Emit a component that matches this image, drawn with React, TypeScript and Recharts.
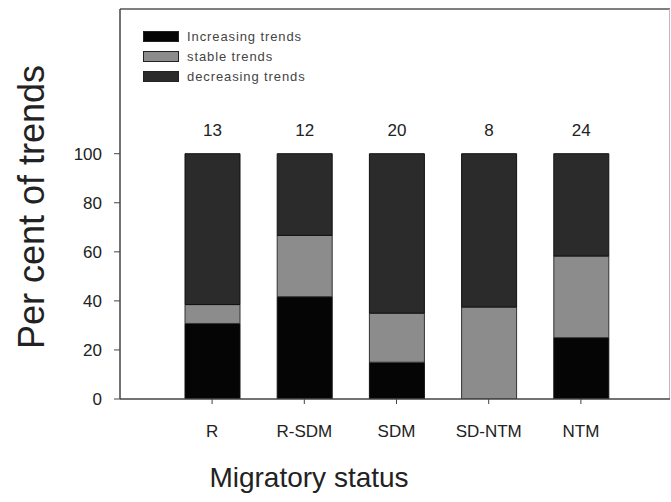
import React from "react";
import { BarChart, Bar, XAxis, YAxis, LabelList, Label, ReferenceLine } from "recharts";

const categories = ["R", "R-SDM", "SDM", "SD-NTM", "NTM"];
const increasing = [30.8, 41.7, 15, 0, 25];
const stable = [7.7, 25, 20, 37.5, 33.3];
const decreasing = [61.5, 33.3, 65, 62.5, 41.7];
const counts = [13, 12, 20, 8, 24];
const yTicks = [0, 20, 40, 60, 80, 100];
const Y_MAX = 159;

const data = categories.map((c, i) => ({
  cat: c,
  inc: increasing[i],
  sta: stable[i],
  dec: decreasing[i],
  n: counts[i],
}));

const legendItems = [
  { label: "Increasing trends", color: "#050505" },
  { label: "stable trends", color: "#8c8c8c" },
  { label: "decreasing trends", color: "#2b2b2b" },
];

const FONT = "Liberation Sans, Arial, sans-serif";

const CountLabel = (props: any) => {
  const { x, y, width, value } = props;
  return (
    <text x={x + width / 2} y={y - 18} textAnchor="middle" fontSize={17} fill="#222" fontFamily={FONT}>
      {value}
    </text>
  );
};

export default function App() {
  return (
    <div style={{ position: "absolute", left: 0, top: 0, width: 671, height: 502, background: "#fff" }}>
      <BarChart
        width={671}
        height={502}
        data={data}
        margin={{ top: 9, right: 1, left: 0, bottom: 0 }}
        barCategoryGap={0}
      >
        <XAxis
          dataKey="cat"
          xAxisId="b"
          height={103}
          padding={{ left: 46, right: 43 }}
          tickLine={{ stroke: "#444" }}
          axisLine={{ stroke: "#444", strokeWidth: 1.5 }}
          tickSize={5}
          tickMargin={21}
          interval={0}
          tick={{ fontSize: 17, fill: "#222", fontFamily: FONT }}
        >
          <Label
            content={(p: any) => {
              const vb = p.viewBox;
              return (
                <text x={vb.x + 189} y={vb.y + 88} textAnchor="middle" fontSize={28} fill="#222" fontFamily={FONT}>
                  Migratory status
                </text>
              );
            }}
          />
        </XAxis>
        <YAxis
          yAxisId="l"
          width={120}
          domain={[0, Y_MAX]}
          ticks={yTicks}
          allowDataOverflow
          tickLine={{ stroke: "#444" }}
          axisLine={{ stroke: "#444", strokeWidth: 1.5 }}
          tickSize={6}
          tickMargin={12}
          tick={{ fontSize: 17, fill: "#222", fontFamily: FONT }}
        >
          <Label
            content={(p: any) => {
              const vb = p.viewBox;
              const cx = 44;
              const cy = vb.y + vb.height / 2 + 3;
              return (
                <text x={cx} y={cy} transform={`rotate(-90, ${cx}, ${cy})`} textAnchor="middle" fontSize={36} fill="#222" fontFamily={FONT}>
                  Per cent of trends
                </text>
              );
            }}
          />
        </YAxis>
        <ReferenceLine y={Y_MAX} xAxisId="b" yAxisId="l" stroke="#555" strokeWidth={1.5} ifOverflow="visible" />
        <ReferenceLine
          xAxisId="b"
          yAxisId="l"
          segment={[{ x: "NTM", y: 0 }, { x: "NTM", y: Y_MAX }]}
          stroke="#999"
          strokeWidth={1}
          ifOverflow="visible"
          shape={(p: any) => {
            const right = p.viewBox ? p.viewBox.x + p.viewBox.width : 670;
            return <line x1={right - 0.5} y1={p.y1} x2={right - 0.5} y2={p.y2} stroke="#bbb" strokeWidth={1} />;
          }}
        />
        <Bar dataKey="inc" name="Increasing trends" stackId="s" xAxisId="b" yAxisId="l" fill="#050505" stroke="#111" strokeWidth={1} barSize={55} isAnimationActive={false} />
        <Bar dataKey="sta" name="stable trends" stackId="s" xAxisId="b" yAxisId="l" fill="#8c8c8c" stroke="#333" strokeWidth={1} barSize={55} isAnimationActive={false} />
        <Bar dataKey="dec" name="decreasing trends" stackId="s" xAxisId="b" yAxisId="l" fill="#2b2b2b" stroke="#111" strokeWidth={1} barSize={55} isAnimationActive={false}>
          <LabelList dataKey="n" content={CountLabel} />
        </Bar>
      </BarChart>
      <div style={{ position: "absolute", left: 143, top: 26, fontFamily: FONT }}>
        {legendItems.map((it) => (
          <div key={it.label} style={{ display: "flex", alignItems: "center", height: 20 }}>
            <div style={{ width: 36, height: 11, background: it.color, border: "1px solid #222", boxSizing: "border-box" }} />
            <span style={{ marginLeft: 8, fontSize: 13, color: "#444", letterSpacing: 0.9 }}>{it.label}</span>
          </div>
        ))}
      </div>
    </div>
  );
}
